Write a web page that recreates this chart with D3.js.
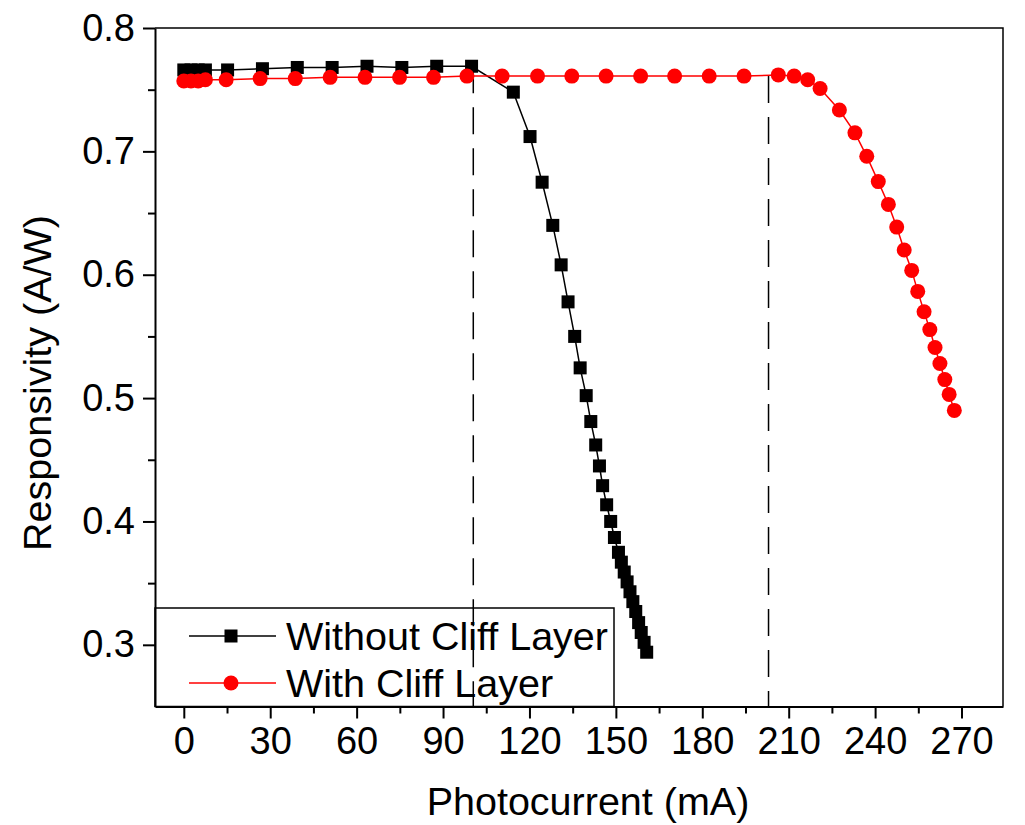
<!DOCTYPE html>
<html>
<head>
<meta charset="utf-8">
<script src="https://cdn.jsdelivr.net/npm/d3@7"></script>
<style>
  html, body { margin: 0; padding: 0; background: #fff; }
  svg { display: block; }
  text { font-family: "Liberation Sans", Arial, sans-serif; fill: #000; }
</style>
</head>
<body>
<svg id="chart" width="1025" height="825"></svg>
<script>
// Photocurrent (mA) and responsivity (A/W), device without the cliff layer
const withoutX = [0, 2.5, 5, 7.5, 15.2, 27.3, 39.4, 51.5, 63.6, 75.7, 87.8, 99.9,
  114.4, 120.2, 124.4, 128.1, 131.0, 133.4, 135.7, 137.6, 139.7, 141.3, 143.0, 144.3,
  145.4, 146.8, 148.2, 149.5, 150.9, 151.9, 152.9, 153.9, 154.9, 155.9, 156.9, 157.9,
  158.8, 159.8, 160.7];
const withoutY = [0.766, 0.766, 0.766, 0.766, 0.766, 0.767, 0.768, 0.768, 0.769, 0.768, 0.769, 0.769,
  0.748, 0.712, 0.675, 0.640, 0.608, 0.578, 0.550, 0.5245, 0.502, 0.481, 0.462, 0.445,
  0.429, 0.4135, 0.400, 0.387, 0.375, 0.367, 0.359, 0.351, 0.343, 0.335, 0.327, 0.318,
  0.310, 0.302, 0.294];

// Device with the cliff layer
const withX = [0, 2.5, 5, 7.5, 14.7, 26.5, 38.7, 50.8, 62.9, 74.9, 86.7, 98.3,
  110.5, 122.8, 134.7, 146.6, 158.6, 170.4, 182.4, 194.5, 206.4, 211.9, 216.6, 220.9,
  227.6, 233.0, 237.1, 241.1, 244.6, 247.5, 250.1, 252.7, 254.8, 257.0, 259.0, 260.8,
  262.5, 264.2, 265.7, 267.5];
const withY = [0.757, 0.757, 0.757, 0.758, 0.758, 0.759, 0.759, 0.760, 0.760, 0.760, 0.760, 0.761,
  0.761, 0.761, 0.761, 0.761, 0.761, 0.761, 0.761, 0.761, 0.762, 0.761, 0.758, 0.751,
  0.7335, 0.715, 0.696, 0.6755, 0.657, 0.6386, 0.620, 0.6035, 0.5865, 0.570, 0.5555, 0.541,
  0.528, 0.515, 0.503, 0.490];

// Saturation onset markers: current and the responsivity level where each guide starts
const onsetX = [100.5, 203];
const onsetY = [0.769, 0.761];

const seriesNames = ["Without Cliff Layer", "With Cliff Layer"];
const xTickValues = [0, 30, 60, 90, 120, 150, 180, 210, 240, 270];
const xMinorValues = [15, 45, 75, 105, 135, 165, 195, 225, 255];
const yTickValues = [0.3, 0.4, 0.5, 0.6, 0.7, 0.8];
const yMinorValues = [0.35, 0.45, 0.55, 0.65, 0.75];
const xTitle = "Photocurrent (mA)";
const yTitle = "Responsivity (A/W)";

const svg = d3.select("#chart");
const plotL = 155, plotR = 1003, plotT = 28, plotB = 706.5;
const tickFont = 38, labelFont = 39.5;

const x = d3.scaleLinear().domain([-10, 284.4]).range([plotL, plotR]);
const y = d3.scaleLinear().domain([0.25, 0.8]).range([plotB, plotT]);

// frame (top and right edges)
svg.append("path")
  .attr("d", `M${plotL},${plotT}H${plotR}V${plotB}`)
  .attr("fill", "none").attr("stroke", "#000").attr("stroke-width", 1.5);

// bottom axis
const xAxis = svg.append("g").attr("transform", `translate(0,${plotB})`)
  .call(d3.axisBottom(x).tickValues(xTickValues).tickSize(12).tickSizeOuter(0).tickPadding(9)
    .tickFormat(d3.format("d")));
xAxis.select(".domain").attr("stroke-width", 2);
xAxis.selectAll(".tick line").attr("stroke-width", 2);
xAxis.selectAll(".tick text").attr("font-size", tickFont).attr("font-family", "Liberation Sans, Arial, sans-serif");
svg.append("g").attr("transform", `translate(0,${plotB})`)
  .call(d3.axisBottom(x).tickValues(xMinorValues).tickSize(7).tickSizeOuter(0).tickFormat(""))
  .call(g => g.select(".domain").remove())
  .selectAll(".tick line").attr("stroke-width", 2);

// left axis
const yAxis = svg.append("g").attr("transform", `translate(${plotL},0)`)
  .call(d3.axisLeft(y).tickValues(yTickValues).tickSize(12).tickSizeOuter(0).tickPadding(8)
    .tickFormat(d3.format(".1f")));
yAxis.select(".domain").attr("stroke-width", 2);
yAxis.selectAll(".tick line").attr("stroke-width", 2);
yAxis.selectAll(".tick text").attr("font-size", tickFont).attr("font-family", "Liberation Sans, Arial, sans-serif");
svg.append("g").attr("transform", `translate(${plotL},0)`)
  .call(d3.axisLeft(y).tickValues(yMinorValues).tickSize(7).tickSizeOuter(0).tickFormat(""))
  .call(g => g.select(".domain").remove())
  .selectAll(".tick line").attr("stroke-width", 2);

// axis titles
svg.append("text").attr("x", 588).attr("y", 815)
  .attr("text-anchor", "middle").attr("font-size", labelFont).text(xTitle);
svg.append("text").attr("transform", `translate(51,383) rotate(-90)`)
  .attr("text-anchor", "middle").attr("font-size", labelFont).text(yTitle);

const line = d3.line().x(d => x(d[0])).y(d => y(d[1]));
const without = withoutX.map((v, i) => [v, withoutY[i]]);
const withCliff = withX.map((v, i) => [v, withY[i]]);

// legend box and entries
const legend = svg.append("g");
legend.append("rect").attr("x", plotL).attr("y", 608).attr("width", 614 - plotL).attr("height", plotB - 608)
  .attr("fill", "none").attr("stroke", "#000").attr("stroke-width", 1.5);
const legendRows = [
  { name: seriesNames[0], color: "#000", shape: "square", cy: 636 },
  { name: seriesNames[1], color: "#ff0000", shape: "circle", cy: 683 }
];
legendRows.forEach(r => {
  legend.append("line").attr("x1", 189).attr("x2", 276).attr("y1", r.cy).attr("y2", r.cy)
    .attr("stroke", r.color).attr("stroke-width", 1.5);
  if (r.shape === "square") {
    legend.append("rect").attr("x", 231 - 6.5).attr("y", r.cy - 6.5).attr("width", 13).attr("height", 13).attr("fill", r.color);
  } else {
    legend.append("circle").attr("cx", 231).attr("cy", r.cy).attr("r", 7.5).attr("fill", r.color);
  }
  legend.append("text").attr("x", 286).attr("y", r.cy + 14).attr("font-size", labelFont).text(r.name);
});

// dashed guides at the onset of saturation
svg.selectAll(".onset").data(onsetX).join("line").attr("class", "onset")
  .attr("x1", d => x(d)).attr("x2", d => x(d))
  .attr("y1", (d, i) => y(onsetY[i])).attr("y2", plotB)
  .attr("stroke", "#000").attr("stroke-width", 1.5).attr("stroke-dasharray", "27,14");

// series without cliff layer
svg.append("path").datum(without).attr("d", line)
  .attr("fill", "none").attr("stroke", "#000").attr("stroke-width", 1.5);
svg.selectAll(".sq").data(without).join("rect").attr("class", "sq")
  .attr("x", d => x(d[0]) - 6.5).attr("y", d => y(d[1]) - 6.5)
  .attr("width", 13).attr("height", 13).attr("fill", "#000");

// series with cliff layer
svg.append("path").datum(withCliff).attr("d", line)
  .attr("fill", "none").attr("stroke", "#ff0000").attr("stroke-width", 1.5);
svg.selectAll(".dot").data(withCliff).join("circle").attr("class", "dot")
  .attr("cx", d => x(d[0])).attr("cy", d => y(d[1])).attr("r", 7.5).attr("fill", "#ff0000");
</script>
</body>
</html>
